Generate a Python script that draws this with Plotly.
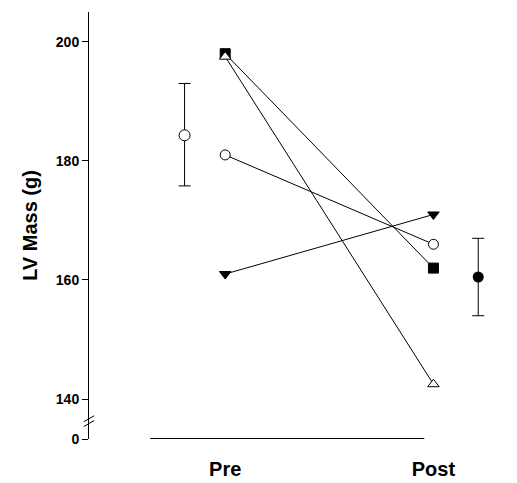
import plotly.graph_objects as go

# x positions: Pre = 1, Post = 2
groups = ["Pre", "Post"]
square = [198, 162]
triangle_up = [197.5, 142.5]
circle = [181, 166]
triangle_down = [161, 171]

mean_x = [0.805, 2.215]
mean_y = [184.3, 160.5]
mean_err_plus = [8.7, 6.5]
mean_err_minus = [8.5, 6.5]

y_ticks = [133.3, 140, 160, 180, 200]
y_labels = ["0", "140", "160", "180", "200"]

fig = go.Figure()
subjects = [
    (square, "square", "black"),
    (triangle_up, "triangle-up", "white"),
    (circle, "circle", "white"),
    (triangle_down, "triangle-down", "black"),
]
for vals, sym, fill in subjects:
    fig.add_trace(go.Scatter(x=[1, 2], y=vals, mode="lines+markers",
                             line=dict(color="black", width=1),
                             marker=dict(symbol=sym, size=10, color=fill,
                                         line=dict(color="black", width=1))))

fig.add_trace(go.Scatter(x=[mean_x[0]], y=[mean_y[0]], mode="markers",
                         marker=dict(symbol="circle", size=11, color="white", line=dict(color="black", width=1)),
                         error_y=dict(type="data", array=[mean_err_plus[0]], arrayminus=[mean_err_minus[0]],
                                      color="black", thickness=1, width=6)))
fig.add_trace(go.Scatter(x=[mean_x[1]], y=[mean_y[1]], mode="markers",
                         marker=dict(symbol="circle", size=11, color="black"),
                         error_y=dict(type="data", array=[mean_err_plus[1]], arrayminus=[mean_err_minus[1]],
                                      color="black", thickness=1, width=6)))

# bottom axis segment and axis break marks
fig.add_shape(type="line", xref="x", yref="y", x0=0.64, x1=1.956, y0=133.3, y1=133.3,
              line=dict(color="black", width=2))
fig.add_shape(type="line", xref="paper", yref="y", x0=-0.012, x1=0.012, y0=136.2, y1=137.2,
              line=dict(color="black", width=1))
fig.add_shape(type="line", xref="paper", yref="y", x0=-0.012, x1=0.012, y0=135.4, y1=136.4,
              line=dict(color="black", width=1))

fig.update_layout(
    width=517, height=483, showlegend=False,
    plot_bgcolor="white", paper_bgcolor="white",
    margin=dict(l=81, r=2, t=4, b=52),
    font=dict(family="Liberation Sans, Arial", color="black"),
    xaxis=dict(range=[0.346, 2.43], tickvals=[1, 2], ticktext=groups, showgrid=False,
               zeroline=False, showline=False, ticks="outside", ticklen=12, tickcolor="white",
               automargin=False, tickfont=dict(size=20, weight="bold")),
    yaxis=dict(range=[133.3, 205], tickvals=y_ticks, ticktext=y_labels, showgrid=False,
               zeroline=False, showline=True, linecolor="black", linewidth=1,
               ticks="outside", ticklen=6, tickcolor="black", automargin=False,
               tickfont=dict(size=14, weight="bold"),
               title=dict(text="LV Mass (g)", font=dict(size=20, weight="bold"), standoff=12)),
)

fig.write_html("out.html")
